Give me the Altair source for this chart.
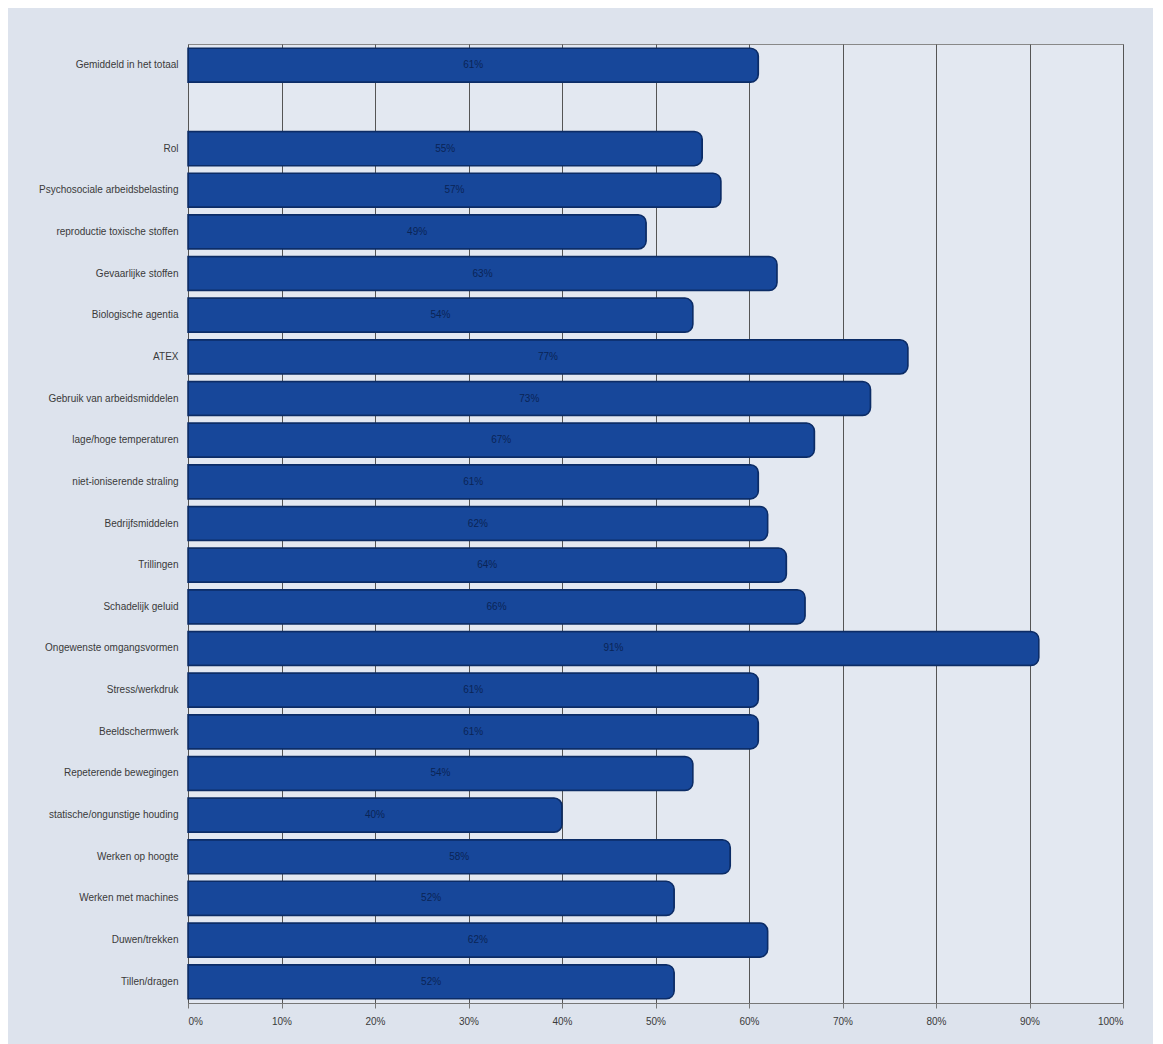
import altair as alt
import pandas as pd

categories = [
    "Gemiddeld in het totaal",
    " ",
    "Rol",
    "Psychosociale arbeidsbelasting",
    "reproductie toxische stoffen",
    "Gevaarlijke stoffen",
    "Biologische agentia",
    "ATEX",
    "Gebruik van arbeidsmiddelen",
    "lage/hoge temperaturen",
    "niet-ioniserende straling",
    "Bedrijfsmiddelen",
    "Trillingen",
    "Schadelijk geluid",
    "Ongewenste omgangsvormen",
    "Stress/werkdruk",
    "Beeldschermwerk",
    "Repeterende bewegingen",
    "statische/ongunstige houding",
    "Werken op hoogte",
    "Werken met machines",
    "Duwen/trekken",
    "Tillen/dragen",
]
values = [61, None, 55, 57, 49, 63, 54, 77, 73, 67, 61, 62, 64, 66, 91, 61, 61, 54, 40, 58, 52, 62, 52]
tick_values = [0, 0.1, 0.2, 0.3, 0.4, 0.5, 0.6, 0.7, 0.8, 0.9, 1.0]

rows = [
    {"cat": c, "value": v / 100, "label": f"{v}%"}
    for c, v in zip(categories, values) if v is not None
]
df = pd.DataFrame(rows)

y_enc = alt.Y(
    "cat:N",
    sort=categories,
    scale=alt.Scale(domain=categories, paddingInner=0.18, paddingOuter=0.1),
    axis=alt.Axis(title=None, labelFontSize=10, labelColor="#3a3a3a", ticks=False,
                  domain=False, labelPadding=10, labelFont="Liberation Sans", labelLimit=200),
)

base = alt.Chart(df)

bars = base.mark_bar(color="#17479a", cornerRadiusEnd=8, stroke="#0c2c66", strokeWidth=1.5).encode(
    x=alt.X("value:Q",
            scale=alt.Scale(domain=[0, 1]),
            axis=alt.Axis(values=tick_values, format=".0%", title=None, labelFontSize=10,
                          labelColor="#3a3a3a", grid=True, gridColor="#555555", gridWidth=1,
                          tickColor="#777777", domainColor="#777777", labelFont="Liberation Sans",
                          labelPadding=8)),
    y=y_enc,
)

texts = base.mark_text(fontSize=10, color="#0a2456", font="Liberation Sans").encode(
    x=alt.X("mid:Q"),
    y=alt.Y("cat:N", sort=categories, scale=alt.Scale(domain=categories)),
    text="label:N",
).transform_calculate(mid="datum.value / 2")

chart = (bars + texts).properties(
    width=935,
    height=959,
    autosize=alt.AutoSizeParams(type="none"),
    padding={"left": 180, "top": 36, "right": 30, "bottom": 41},
    background="#dde3ed",
).configure_view(stroke="#888888", strokeWidth=1, fill="#e3e8f1")

chart.save("out.html", embed_options={"renderer": "svg", "actions": False})
